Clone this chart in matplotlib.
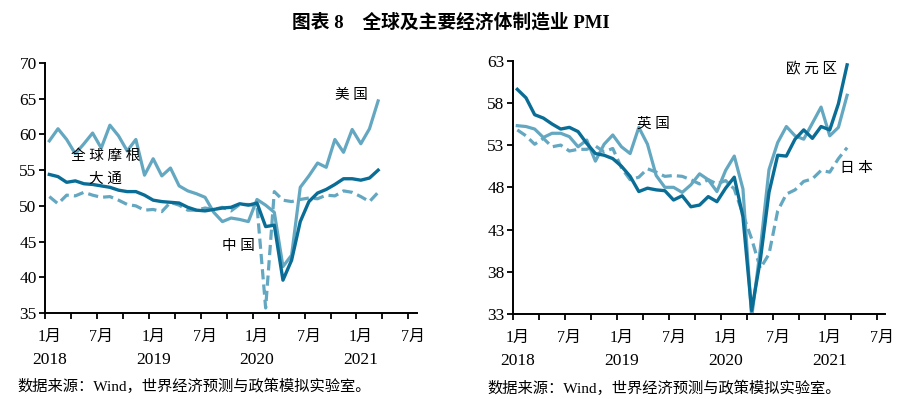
import numpy as np
import matplotlib.pyplot as plt

plt.rcParams['font.family'] = ['Liberation Serif', 'Noto Sans CJK SC']

# monthly, Jan 2018 - Mar 2021
global_jpm = [54.4, 54.1, 53.3, 53.5, 53.1, 53.0, 52.8, 52.6, 52.2, 52.0, 52.0, 51.5,
              50.8, 50.6, 50.5, 50.4, 49.8, 49.4, 49.3, 49.5, 49.7, 49.8, 50.3, 50.1,
              50.4, 47.1, 47.3, 39.6, 42.4, 47.8, 50.6, 51.8, 52.3, 53.0, 53.8, 53.8,
              53.6, 53.9, 55.0]
us = [59.1, 60.8, 59.3, 57.3, 58.7, 60.2, 58.1, 61.3, 59.8, 57.7, 59.3, 54.3,
      56.6, 54.2, 55.3, 52.8, 52.1, 51.7, 51.2, 49.1, 47.8, 48.3, 48.1, 47.8,
      50.9, 50.1, 49.1, 41.5, 43.1, 52.6, 54.2, 56.0, 55.4, 59.3, 57.5, 60.7,
      58.7, 60.8, 64.7]
china = [51.3, 50.3, 51.5, 51.4, 51.9, 51.5, 51.2, 51.3, 50.8, 50.2, 50.0, 49.4,
         49.5, 49.2, 50.5, 50.1, 49.4, 49.4, 49.7, 49.5, 49.8, 49.3, 50.2, 50.2,
         50.0, 35.7, 52.0, 50.8, 50.6, 50.9, 51.1, 51.0, 51.5, 51.4, 52.1, 51.9,
         51.3, 50.6, 51.9]
euro = [59.6, 58.6, 56.6, 56.2, 55.5, 54.9, 55.1, 54.6, 53.2, 52.0, 51.8, 51.4,
        50.5, 49.3, 47.5, 47.9, 47.7, 47.6, 46.5, 47.0, 45.7, 45.9, 46.9, 46.3,
        47.9, 49.2, 44.5, 33.4, 39.4, 47.4, 51.8, 51.7, 53.7, 54.8, 53.8, 55.2,
        54.8, 57.9, 62.5]
uk = [55.3, 55.2, 54.9, 53.9, 54.4, 54.4, 54.0, 52.8, 53.6, 51.1, 53.1, 54.2,
      52.8, 52.0, 55.1, 53.1, 49.4, 48.0, 48.0, 47.4, 48.3, 49.6, 48.9, 47.5,
      50.0, 51.7, 47.8, 32.6, 40.7, 50.1, 53.3, 55.2, 54.1, 53.7, 55.6, 57.5,
      54.1, 55.1, 58.9]
japan = [54.8, 54.1, 53.1, 53.8, 52.8, 53.0, 52.3, 52.5, 52.5, 52.9, 52.2, 52.6,
         50.3, 48.9, 49.2, 50.2, 49.8, 49.3, 49.4, 49.3, 48.9, 48.4, 48.9, 48.4,
         48.8, 47.8, 44.8, 41.9, 38.4, 40.1, 45.2, 47.2, 47.7, 48.7, 49.0, 50.0,
         49.8, 51.4, 52.7]

month_lbls = ['1月', '7月', '1月', '7月', '1月', '7月', '1月', '7月']
year_lbls = ['2018', '2019', '2020', '2021']

dark = '#0a6d96'
light = '#64a7c1'

fig = plt.figure(figsize=(9.02, 3.99), dpi=100)
ax1 = fig.add_axes([0.0499, 0.2155, 0.412, 0.6265])
ax2 = fig.add_axes([0.5687, 0.213, 0.4123, 0.635])

x = np.arange(len(us))


def style_axis(ax, ylo, yhi, xhi):
    ax.set_xlim(-0.5, xhi)
    ax.set_ylim(ylo, yhi)
    ax.set_yticks(np.arange(ylo, yhi + 1, 5))
    ax.tick_params(axis='y', labelsize=12.5, length=4, width=1.3, direction='out', pad=2)
    ax.set_xticks(np.arange(-0.5, 42, 3))
    ax.tick_params(axis='x', which='major', length=4, width=1.3, labelbottom=False)
    for s in ['top', 'right']:
        ax.spines[s].set_visible(False)
    for s in ['left', 'bottom']:
        ax.spines[s].set_linewidth(1.4)
    # month and year labels under the axis
    for i, lbl in enumerate(month_lbls):
        ax.annotate(lbl, (i * 6, 0), xycoords=('data', 'axes fraction'),
                    xytext=(0, -17.5), textcoords='offset points',
                    ha='center', va='center', fontsize=11.5, annotation_clip=False)
    for i, lbl in enumerate(year_lbls):
        ax.annotate(lbl, (i * 12, 0), xycoords=('data', 'axes fraction'),
                    xytext=(0, -33.5), textcoords='offset points',
                    ha='center', va='center', fontsize=12.5, annotation_clip=False)


# left panel
ax1.plot(x, china, color=light, lw=2.3, ls=(0, (3.2, 1.6)))
ax1.plot(x, us, color=light, lw=2.3)
ax1.plot(x, global_jpm, color=dark, lw=2.4)
style_axis(ax1, 35, 70, 42.45)
ax1.text(34.9, 65.5, '美 国', fontsize=10.5, ha='center', va='center')
ax1.text(6.5, 56.9, '全 球 摩 根', fontsize=10.5, ha='center', va='center')
ax1.text(6.5, 53.7, '大 通', fontsize=10.5, ha='center', va='center')
ax1.text(21.8, 44.3, '中 国', fontsize=10.5, ha='center', va='center')

# right panel
ax2.plot(x, japan, color=light, lw=2.3, ls=(0, (3.2, 1.6)))
ax2.plot(x, uk, color=light, lw=2.3)
ax2.plot(x, euro, color=dark, lw=2.4)
style_axis(ax2, 33, 63, 42.35)
ax2.text(33.9, 62.0, '欧 元 区', fontsize=10.5, ha='center', va='center')
ax2.text(15.7, 55.5, '英 国', fontsize=10.5, ha='center', va='center')
ax2.text(39.1, 50.25, '日 本', fontsize=10.5, ha='center', va='center')

fig.text(0.5, 0.945, '图表 8　全球及主要经济体制造业 PMI', ha='center', va='center',
         fontsize=13.5, fontweight='bold')
fig.text(0.019, 0.033, '数据来源：Wind，世界经济预测与政策模拟实验室。', fontsize=11,
         ha='left', va='center')
fig.text(0.54, 0.027, '数据来源：Wind，世界经济预测与政策模拟实验室。', fontsize=11,
         ha='left', va='center')

fig.savefig('out.png', dpi=100)
